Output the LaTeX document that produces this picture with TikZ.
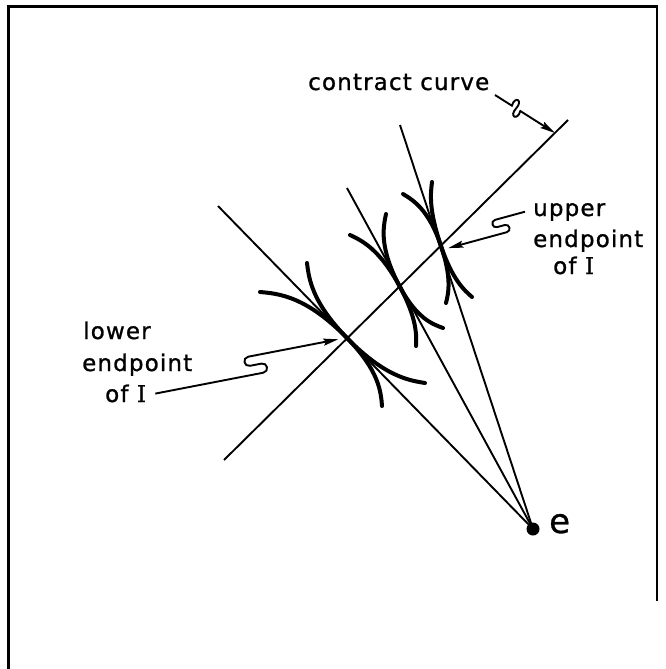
\documentclass[tikz,border=0pt]{standalone}
\usepackage{fontspec}
\setmainfont{DejaVu Sans}[LetterSpace=5,FakeBold=1]
\newfontfamily\serifI{DejaVu Serif}[FakeBold=1]
\usetikzlibrary{arrows.meta}
\begin{document}
\begin{tikzpicture}[x=1pt,y=-1pt,
  frame/.style={line width=2.6pt, line cap=rect},
  ray/.style={line width=1.9pt},
  indiff/.style={line width=4pt, line cap=round},
  leader/.style={line width=1.9pt, -{Stealth[length=15pt,width=7pt,inset=2.5pt]}},
  lbl/.style={anchor=base west, inner sep=0pt, font=\fontsize{23}{23}\selectfont},
]
\useasboundingbox (0,0) rectangle (665,669);
\draw[frame] (8.5,669) -- (8.5,6.5) -- (657,6.5) -- (657,600);

% key points
\coordinate (E) at (533,529);
\coordinate (P1) at (347,338);
\coordinate (P2) at (400,287);
\coordinate (P3) at (441,246);
\coordinate (L1) at (218,206);
\coordinate (L2) at (347,188);
\coordinate (L3) at (400,125);
\coordinate (C0) at (224,460);
\coordinate (C1) at (568,120);

% contract curve and rays from e
\draw[ray] (C0) -- (C1);
\draw[ray] (E) -- (L1);
\draw[ray] (E) -- (L2);
\draw[ray] (E) -- (L3);

% indifference curves (each tangent to the ray at the contact point)
\draw[indiff] (260,292) .. controls (278.4,293.6) and (305.9,296) .. (P1)
  .. controls (379.3,371) and (380.9,392) .. (382,406);
\draw[indiff] (307,263) .. controls (308.9,278.6) and (311.8,302) .. (P1)
  .. controls (384.7,376.6) and (408.9,380.4) .. (425,383);
\draw[indiff] (350,235) .. controls (361.8,240.6) and (379.6,248.9) .. (P2)
  .. controls (417.3,319.3) and (416.5,335.7) .. (416,346);
\draw[indiff] (386,214) .. controls (383.2,227.5) and (378.9,247.7) .. (P2)
  .. controls (416.8,318.4) and (432.5,324.2) .. (443,328);
\draw[indiff] (403,194) .. controls (413.2,200.2) and (428.6,209.4) .. (P3)
  .. controls (452,278.5) and (448.4,293.2) .. (446,303);
\draw[indiff] (432,182) .. controls (430.6,193.7) and (428.5,209.3) .. (P3)
  .. controls (452.5,279.9) and (464.2,290.2) .. (472,297);

% point e
\fill (E) circle (6.5);
\node[anchor=base west, inner sep=0pt, font=\fontsize{34}{34}\selectfont] (elab) at (549,533) {e};

% labels
\node[lbl] (cc) at (308,90) {contract curve};
\node[lbl] (lo1) at (83,339) {lower};
\node[lbl] (lo2) at (82,371) {endpoint};
\node[lbl] (lo3) at (105,402) {of {\serifI I}};
\node[lbl] (up1) at (533,216) {upper};
\node[lbl] (up2) at (533,247) {endpoint};
\node[lbl] (up3) at (553,274) {of {\serifI I}};

% leaders
\coordinate (ccA) at (495,95);
\coordinate (ccT) at (555,133);
\draw[leader] (ccA) -- (511.9,105.7) .. controls (514.7,95.6) and (523.7,100.15) .. (516.1,108.4)
  .. controls (508.55,116.6) and (517.5,121.1) .. (520.35,111.05) -- (ccT);

\coordinate (loA) at (155.3,393.6);
\coordinate (loT) at (338.3,339.3);
\draw[leader] (loA) -- (263.3,372.7) .. controls (269.4,371.5) and (267.6,362.4) .. (261.5,363.6)
  -- (250.0,365.8) .. controls (243.9,367.0) and (242.1,357.9) .. (248.2,356.7) -- (loT);

\coordinate (upA) at (525,211.7);
\coordinate (upT) at (448.3,248.1);
\draw[leader] (upA) -- (495.1,219.85) .. controls (490.3,221.2) and (492.3,228.4) .. (497.1,227.1)
  -- (504.8,225.0) .. controls (509.6,223.7) and (511.6,230.9) .. (506.8,232.2) -- (upT);
\end{tikzpicture}
\end{document}
